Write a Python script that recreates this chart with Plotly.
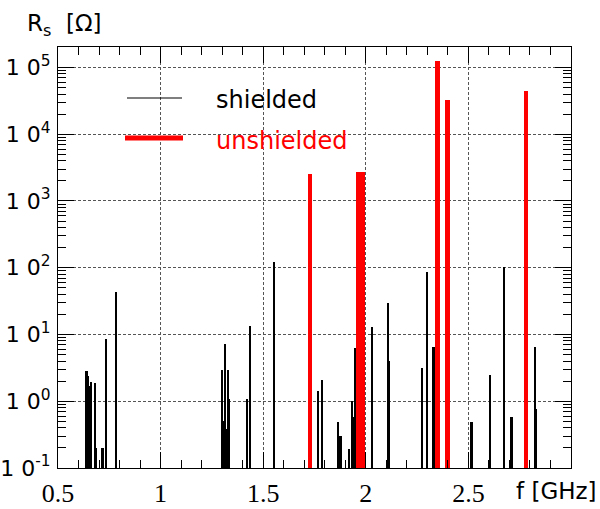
import plotly.graph_objects as go

# ---- data ----
shielded_f = [0.640, 0.645, 0.650, 0.658, 0.664, 0.682, 0.687, 0.718, 0.734, 0.784,
              1.299, 1.306, 1.315, 1.321, 1.328, 1.336, 1.422, 1.435, 1.552,
              1.767, 1.786, 1.866, 1.876, 1.881, 1.920, 1.933, 1.942, 1.950,
              2.030, 2.108, 2.115, 2.274, 2.299, 2.331, 2.516,
              2.606, 2.676, 2.711, 2.825, 2.830]
shielded_R = [2.8, 2.35, 1.7, 0.5, 1.95, 1.9, 0.2, 0.2, 8.6, 43,
              2.95, 0.5, 7.1, 0.38, 2.9, 1.07, 1.07, 13.5, 121,
              1.4, 2.1, 0.49, 0.3, 0.3, 0.19, 1.0, 0.58, 6.2,
              13, 29.5, 4.0, 3.1, 86, 6.6, 0.49,
              2.5, 102, 0.59, 6.6, 0.77]

unshielded_f = [1.728, 1.963, 1.987, 2.351, 2.399, 2.780]
unshielded_R = [2500, 2750, 2750, 1.26e5, 3.3e4, 4.5e4]

x_tickvals = [0.5, 1, 1.5, 2, 2.5]
x_ticktext = ["0.5", "1", "1.5", "2", "2.5"]
y_tickvals = [0.1, 1, 10, 100, 1000, 10000, 100000]
y_ticktext = ["1 0<sup>-1</sup>", "1 0<sup>0</sup>", "1 0<sup>1</sup>", "1 0<sup>2</sup>",
              "1 0<sup>3</sup>", "1 0<sup>4</sup>", "1 0<sup>5</sup>"]

SANS = "DejaVu Sans"
SERIF = "Liberation Serif"

fig = go.Figure()
fig.add_trace(go.Bar(x=shielded_f, y=shielded_R, width=0.008,
                     marker=dict(color="black", line=dict(width=0)),
                     name="shielded", showlegend=False))
fig.add_trace(go.Bar(x=unshielded_f, y=unshielded_R, width=0.023,
                     marker=dict(color="#ff0000", line=dict(width=0)),
                     name="unshielded", showlegend=False))

L, R, T, B = 58, 29, 47, 41
W, H = 600, 509
pw, ph = W - L - R, H - T - B

def px(xp):
    return (xp - L) / pw

def py(yp):
    return (H - B - yp) / ph

# legend (drawn by hand, ROOT style)
fig.add_shape(type="line", xref="paper", yref="paper",
              x0=px(127), x1=px(182), y0=py(98), y1=py(98),
              line=dict(color="black", width=1.2))
fig.add_shape(type="line", xref="paper", yref="paper",
              x0=px(125), x1=px(183), y0=py(138), y1=py(138),
              line=dict(color="#ff0000", width=5))
fig.add_annotation(xref="paper", yref="paper", x=px(214), y=py(100),
                   text="shielded", showarrow=False, xanchor="left", yanchor="middle",
                   font=dict(family=SANS, size=24, color="black"))
fig.add_annotation(xref="paper", yref="paper", x=px(214), y=py(141),
                   text="unshielded", showarrow=False, xanchor="left", yanchor="middle",
                   font=dict(family=SANS, size=24, color="#ff0000"))

# axis titles
fig.add_annotation(xref="paper", yref="paper", x=px(599), y=py(491),
                   text="f [GHz]", showarrow=False, xanchor="right", yanchor="middle",
                   font=dict(family=SANS, size=23, color="black"))
fig.add_annotation(xref="paper", yref="paper", x=px(25), y=py(25),
                   text="R<sub>s</sub>\u00a0\u00a0[Ω]", showarrow=False,
                   xanchor="left", yanchor="middle",
                   font=dict(family=SANS, size=23, color="black"))

grid_dash = "3px,2px"
fig.update_layout(
    width=W, height=H,
    margin=dict(l=L, r=R, t=T, b=B, pad=0, autoexpand=False),
    paper_bgcolor="white", plot_bgcolor="white",
    barmode="overlay", bargap=0,
    showlegend=False,
    font=dict(family=SANS, size=22, color="black"),
    xaxis=dict(
        range=[0.5, 3.0], tickmode="array", tickvals=x_tickvals, ticktext=x_ticktext,
        ticks="inside", ticklen=16, tickwidth=1, tickcolor="black",
        showline=True, linecolor="black", linewidth=1, mirror="allticks",
        showgrid=True, gridcolor="#555555", gridwidth=1, griddash=grid_dash,
        zeroline=False, automargin=False,
        tickfont=dict(family=SERIF, size=26, color="black"),
        ticklabelstandoff=2,
        minor=dict(ticks="inside", ticklen=8, tickwidth=1, tickcolor="black",
                   dtick=0.1, tick0=0.5, showgrid=False),
    ),
    yaxis=dict(
        type="log", range=[-1, 5.306], tickmode="array",
        tickvals=y_tickvals, ticktext=y_ticktext,
        ticks="inside", ticklen=16, tickwidth=1, tickcolor="black",
        showline=True, linecolor="black", linewidth=1, mirror="allticks",
        showgrid=True, gridcolor="#555555", gridwidth=1, griddash=grid_dash,
        zeroline=False, automargin=False,
        tickfont=dict(family=SANS, size=22, color="black"),
        ticklabelstandoff=2,
        minor=dict(ticks="inside", ticklen=8, tickwidth=1, tickcolor="black",
                   dtick="D1", showgrid=False),
    ),
)

fig.write_html("out.html")
